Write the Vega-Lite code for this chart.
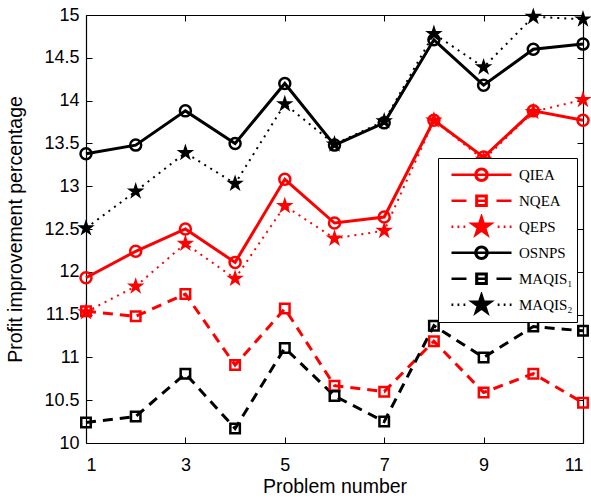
{
  "$schema": "https://vega.github.io/schema/vega-lite/v6.json",
  "width": 497,
  "height": 428,
  "autosize": "none",
  "padding": {"left": 86, "top": 15, "right": 8, "bottom": 59},
  "background": "white",
  "config": {
    "view": {"stroke": null},
    "axis": {
      "labelFont": "Liberation Sans",
      "titleFont": "Liberation Sans",
      "labelFontSize": 18,
      "titleFontSize": 19.5,
      "titleFontWeight": "normal",
      "labelColor": "black",
      "titleColor": "black",
      "domainColor": "black",
      "domainWidth": 1.2,
      "tickColor": "black",
      "tickWidth": 1,
      "tickSize": -6,
      "grid": false
    }
  },
  "data": {
    "values": [
      {"p": 1, "s": "QIEA", "v": 11.93}, {"p": 2, "s": "QIEA", "v": 12.24}, {"p": 3, "s": "QIEA", "v": 12.50}, {"p": 4, "s": "QIEA", "v": 12.11}, {"p": 5, "s": "QIEA", "v": 13.08}, {"p": 6, "s": "QIEA", "v": 12.57}, {"p": 7, "s": "QIEA", "v": 12.64}, {"p": 8, "s": "QIEA", "v": 13.77}, {"p": 9, "s": "QIEA", "v": 13.34}, {"p": 10, "s": "QIEA", "v": 13.88}, {"p": 11, "s": "QIEA", "v": 13.77},
      {"p": 1, "s": "NQEA", "v": 11.54}, {"p": 2, "s": "NQEA", "v": 11.48}, {"p": 3, "s": "NQEA", "v": 11.74}, {"p": 4, "s": "NQEA", "v": 10.91}, {"p": 5, "s": "NQEA", "v": 11.57}, {"p": 6, "s": "NQEA", "v": 10.67}, {"p": 7, "s": "NQEA", "v": 10.60}, {"p": 8, "s": "NQEA", "v": 11.19}, {"p": 9, "s": "NQEA", "v": 10.59}, {"p": 10, "s": "NQEA", "v": 10.81}, {"p": 11, "s": "NQEA", "v": 10.47},
      {"p": 1, "s": "QEPS", "v": 11.53}, {"p": 2, "s": "QEPS", "v": 11.83}, {"p": 3, "s": "QEPS", "v": 12.33}, {"p": 4, "s": "QEPS", "v": 11.92}, {"p": 5, "s": "QEPS", "v": 12.77}, {"p": 6, "s": "QEPS", "v": 12.39}, {"p": 7, "s": "QEPS", "v": 12.48}, {"p": 8, "s": "QEPS", "v": 13.77}, {"p": 9, "s": "QEPS", "v": 13.31}, {"p": 10, "s": "QEPS", "v": 13.87}, {"p": 11, "s": "QEPS", "v": 14.01},
      {"p": 1, "s": "OSNPS", "v": 13.38}, {"p": 2, "s": "OSNPS", "v": 13.48}, {"p": 3, "s": "OSNPS", "v": 13.88}, {"p": 4, "s": "OSNPS", "v": 13.50}, {"p": 5, "s": "OSNPS", "v": 14.20}, {"p": 6, "s": "OSNPS", "v": 13.48}, {"p": 7, "s": "OSNPS", "v": 13.74}, {"p": 8, "s": "OSNPS", "v": 14.71}, {"p": 9, "s": "OSNPS", "v": 14.18}, {"p": 10, "s": "OSNPS", "v": 14.60}, {"p": 11, "s": "OSNPS", "v": 14.66},
      {"p": 1, "s": "MAQIS₁", "v": 10.24}, {"p": 2, "s": "MAQIS₁", "v": 10.31}, {"p": 3, "s": "MAQIS₁", "v": 10.81}, {"p": 4, "s": "MAQIS₁", "v": 10.17}, {"p": 5, "s": "MAQIS₁", "v": 11.11}, {"p": 6, "s": "MAQIS₁", "v": 10.55}, {"p": 7, "s": "MAQIS₁", "v": 10.25}, {"p": 8, "s": "MAQIS₁", "v": 11.37}, {"p": 9, "s": "MAQIS₁", "v": 11.00}, {"p": 10, "s": "MAQIS₁", "v": 11.36}, {"p": 11, "s": "MAQIS₁", "v": 11.31},
      {"p": 1, "s": "MAQIS₂", "v": 12.51}, {"p": 2, "s": "MAQIS₂", "v": 12.94}, {"p": 3, "s": "MAQIS₂", "v": 13.39}, {"p": 4, "s": "MAQIS₂", "v": 13.03}, {"p": 5, "s": "MAQIS₂", "v": 13.96}, {"p": 6, "s": "MAQIS₂", "v": 13.49}, {"p": 7, "s": "MAQIS₂", "v": 13.76}, {"p": 8, "s": "MAQIS₂", "v": 14.78}, {"p": 9, "s": "MAQIS₂", "v": 14.39}, {"p": 10, "s": "MAQIS₂", "v": 14.98}, {"p": 11, "s": "MAQIS₂", "v": 14.95}
    ]
  },
  "encoding": {
    "color": {
      "field": "s",
      "type": "nominal",
      "scale": {
        "domain": ["QIEA", "NQEA", "QEPS", "OSNPS", "MAQIS₁", "MAQIS₂"],
        "range": ["#ff0000", "#ff0000", "#ff0000", "#000000", "#000000", "#000000"]
      },
      "legend": {
        "orient": "none",
        "legendX": 352,
        "legendY": 143,
        "title": null,
        "fillColor": "white",
        "strokeColor": "black",
        "cornerRadius": 0,
        "padding": 4,
        "symbolSize": 3600,
        "symbolStrokeWidth": 2.5,
        "symbolFillColor": "transparent",
        "clipHeight": 25.5,
        "rowPadding": 0,
        "symbolOffset": 8,
        "labelOffset": 6,
        "labelFont": "Liberation Serif",
        "labelFontSize": 15,
        "labelColor": "black",
        "encode": {
          "symbols": {
            "update": {
              "shape": {"signal": "(datum.value=='QIEA'||datum.value=='OSNPS') ? 'M-1,0H1M0.2,0A0.2,0.2 0 1,1 -0.2,0A0.2,0.2 0 1,1 0.2,0ZM0.18,0A0.18,0.18 0 1,0 -0.18,0A0.18,0.18 0 1,0 0.18,0Z' : (datum.value=='NQEA'||datum.value=='MAQIS₁') ? 'M-1,0H-0.5M-0.17,0H0.17M0.5,0H1M-0.17,-0.17H0.17V0.17H-0.17ZM-0.15,-0.15V0.15H0.15V-0.15Z' : 'M-1,0H-0.94M-0.8,0H-0.74M-0.6,0H-0.54M0.54,0H0.6M0.74,0H0.8M0.94,0H1M0,-0.33L0.0741,-0.102L0.3139,-0.102L0.1199,0.039L0.194,0.267L0,0.126L-0.194,0.267L-0.1199,0.039L-0.3139,-0.102L-0.0741,-0.102ZM0,-0.25L0.0561,-0.0773L0.2378,-0.0773L0.0908,0.0295L0.1469,0.2023L0,0.0955L-0.1469,0.2023L-0.0908,0.0295L-0.2378,-0.0773L-0.0561,-0.0773ZM0,-0.17L0.0382,-0.0525L0.1617,-0.0525L0.0618,0.0201L0.0999,0.1375L0,0.065L-0.0999,0.1375L-0.0618,0.0201L-0.1617,-0.0525L-0.0382,-0.0525ZM0,-0.09L0.0202,-0.0278L0.0856,-0.0278L0.0327,0.0106L0.0529,0.0728L0,0.0344L-0.0529,0.0728L-0.0327,0.0106L-0.0856,-0.0278L-0.0202,-0.0278ZM-0.02,0H0.02'"},
              "strokeWidth": {"value": 2.5},
              "opacity": {"value": 1},
              "size": {"value": 3600}
            }
          }
        }
      }
    }
  },
  "layer": [
    {
      "transform": [{"filter": "datum.s=='QIEA'||datum.s=='OSNPS'"}],
      "mark": {"type": "line", "clip": false, "strokeWidth": 3},
      "encoding": {
        "x": {"field": "p", "type": "quantitative", "scale": {"domain": [1, 11], "nice": false, "zero": false},
              "axis": {"orient": "bottom", "values": [1, 3, 5, 7, 9, 11], "title": "Problem number", "labelPadding": 19, "titlePadding": 3, "format": ".1~f"}},
        "y": {"field": "v", "type": "quantitative", "scale": {"domain": [10, 15], "nice": false, "zero": false},
              "axis": {"orient": "left", "values": [10, 10.5, 11, 11.5, 12, 12.5, 13, 13.5, 14, 14.5, 15], "title": "Profit improvement percentage", "labelPadding": 13, "titlePadding": 18, "format": ".1~f"}}
      }
    },
    {
      "transform": [{"filter": "datum.s=='NQEA'||datum.s=='MAQIS₁'"}],
      "mark": {"type": "line", "clip": false, "strokeWidth": 3, "strokeDash": [10, 7]},
      "encoding": {
        "x": {"field": "p", "type": "quantitative", "axis": {"orient": "top", "values": [1, 3, 5, 7, 9, 11], "labels": false, "title": null}},
        "y": {"field": "v", "type": "quantitative", "axis": {"orient": "right", "values": [10, 10.5, 11, 11.5, 12, 12.5, 13, 13.5, 14, 14.5, 15], "labels": false, "title": null}}
      }
    },
    {
      "transform": [{"filter": "datum.s=='QEPS'||datum.s=='MAQIS₂'"}],
      "mark": {"type": "line", "clip": false, "strokeWidth": 2, "strokeDash": [2, 5]},
      "encoding": {
        "x": {"field": "p", "type": "quantitative", "axis": null},
        "y": {"field": "v", "type": "quantitative", "axis": null}
      }
    },
    {
      "transform": [{"filter": "datum.s=='QIEA'||datum.s=='OSNPS'"}],
      "mark": {"type": "point", "shape": "circle", "filled": false, "size": 121, "strokeWidth": 2.5, "opacity": 1, "clip": false},
      "encoding": {
        "x": {"field": "p", "type": "quantitative", "axis": null},
        "y": {"field": "v", "type": "quantitative", "axis": null}
      }
    },
    {
      "transform": [{"filter": "datum.s=='NQEA'||datum.s=='MAQIS₁'"}],
      "mark": {"type": "point", "shape": "square", "filled": false, "size": 90, "strokeWidth": 2.5, "opacity": 1, "clip": false},
      "encoding": {
        "x": {"field": "p", "type": "quantitative", "axis": null},
        "y": {"field": "v", "type": "quantitative", "axis": null}
      }
    },
    {
      "transform": [{"filter": "datum.s=='QEPS'||datum.s=='MAQIS₂'"}],
      "mark": {"type": "point", "shape": "M0,-1L0.2245,-0.309L0.9511,-0.309L0.3633,0.118L0.5878,0.809L0,0.382L-0.5878,0.809L-0.3633,0.118L-0.9511,-0.309L-0.2245,-0.309Z", "filled": true, "size": 340, "strokeWidth": 0, "opacity": 1, "clip": false},
      "encoding": {
        "x": {"field": "p", "type": "quantitative", "axis": null},
        "y": {"field": "v", "type": "quantitative", "axis": null}
      }
    }
  ],
  "resolve": {"axis": {"x": "independent", "y": "independent"}}
}
